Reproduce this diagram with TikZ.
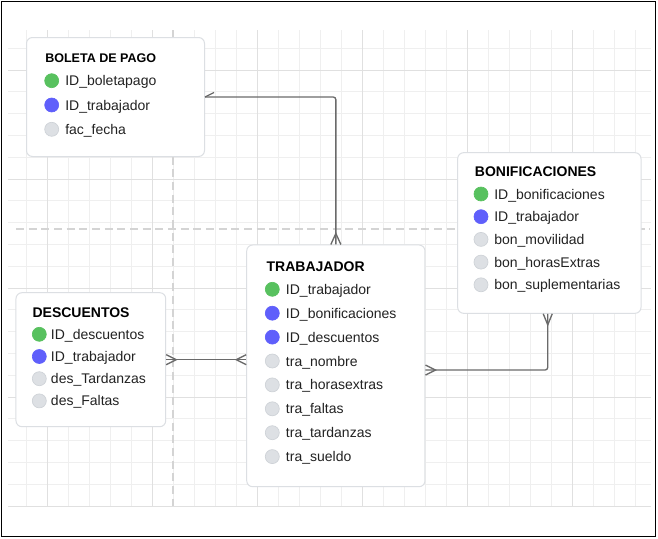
\documentclass[tikz,border=0pt]{standalone}
\usepackage{fontspec}
\setmainfont{Liberation Sans}
\usetikzlibrary{calc}
\definecolor{gminor}{HTML}{EFEFEF}
\definecolor{gmajor}{HTML}{E0E0E0}
\definecolor{dashc}{HTML}{D4D4D4}
\definecolor{boxb}{HTML}{DCDFE3}
\definecolor{conc}{HTML}{6A6A6A}
\definecolor{pkgreen}{HTML}{58C15F}
\definecolor{fkblue}{HTML}{5F5FFB}
\definecolor{attgray}{HTML}{DDE0E4}
\definecolor{attborder}{HTML}{CED2D7}
\definecolor{txt}{HTML}{222222}
\begin{document}
\begin{tikzpicture}[x=0.75pt,y=-0.75pt,
  minorl/.style={draw=gminor, line width=0.75pt},
  majorl/.style={draw=gmajor, line width=0.75pt},
  guide/.style={draw=dashc, line width=1.5pt, dash pattern=on 6pt off 3.5pt},
  entity/.style={draw=boxb, line width=0.75pt, fill=white, rounded corners=4.5pt, inner sep=0pt},
  conn/.style={draw=conc, line width=1pt},
  fld/.style={anchor=base west, inner sep=0pt, text=txt, font=\fontsize{10.5pt}{12pt}\selectfont},
  ttl/.style={anchor=base west, inner sep=0pt, text=black, font=\fontsize{10.5pt}{12pt}\selectfont\bfseries},
  dot/.style={circle, minimum size=10.5pt, inner sep=0pt, line width=0.5pt},
  pkdot/.style={dot, fill=pkgreen, draw=pkgreen},
  fkdot/.style={dot, fill=fkblue, draw=fkblue},
  attdot/.style={dot, fill=attgray, draw=attborder}]
\useasboundingbox (0,0) rectangle (658,539);
\fill[white] (0,0) rectangle (658,539);
% grid
\foreach \k in {0,...,29} \draw[minorl] (26.3+21*\k,30) -- (26.3+21*\k,506);
\foreach \k in {0,...,21} \draw[minorl] (8,48.3+21.8*\k) -- (651,48.3+21.8*\k);
\foreach \k in {1,6,...,26} \draw[majorl] (26.3+21*\k,30) -- (26.3+21*\k,506);
\foreach \k in {1,6,...,21} \draw[majorl] (8,48.3+21.8*\k) -- (651,48.3+21.8*\k);
% guides
\draw[guide] (172.7,30) -- (172.7,506);
\draw[guide] (16,228.7) -- (650,228.7);
% outer frame
\draw[black, line width=1.1pt] (1.5,1.5) rectangle (655.5,536.5);
% entities
\node[entity, minimum width=133.5pt, minimum height=89.25pt] (bol) at (115.5,97) {};
\node[entity, minimum width=133.7pt, minimum height=181.3pt] (trab) at (335.85,365.85) {};
\node[entity, minimum width=137.5pt, minimum height=120.5pt] (bon) at (549.35,233) {};
\node[entity, minimum width=112.3pt, minimum height=100.5pt] (desc) at (90.85,359.7) {};
% BOLETA DE PAGO
\node[ttl, font=\fontsize{9.4pt}{11pt}\selectfont\bfseries] (bolT) at (45,62.7) {BOLETA DE PAGO};
\foreach [count=\i from 0] \s/\t in {pkdot/ID\_boletapago, fkdot/ID\_trabajador, attdot/fac\_fecha} {
  \node[\s] (bolD\i) at (51.7,80.7+24.3*\i) {};
  \node[fld] (bolF\i) at (65,85.7+24.3*\i) {\t};
}
% TRABAJADOR
\node[ttl] (trabT) at (266.4,271) {TRABAJADOR};
\foreach [count=\i from 0] \s/\t in {pkdot/ID\_trabajador, fkdot/ID\_bonificaciones, fkdot/ID\_descuentos, attdot/tra\_nombre, attdot/tra\_horasextras, attdot/tra\_faltas, attdot/tra\_tardanzas, attdot/tra\_sueldo} {
  \node[\s] (trabD\i) at (272.3,289.3+23.9*\i) {};
  \node[fld] (trabF\i) at (285.7,294.3+23.9*\i) {\t};
}
% BONIFICACIONES
\node[ttl] (bonT) at (474.7,176.7) {BONIFICACIONES};
\foreach [count=\i from 0] \s/\t in {pkdot/ID\_bonificaciones, fkdot/ID\_trabajador, attdot/bon\_movilidad, attdot/bon\_horasExtras, attdot/bon\_suplementarias} {
  \node[\s] (bonD\i) at (481,194+22.7*\i) {};
  \node[fld] (bonF\i) at (494,199+22.7*\i) {\t};
}
% DESCUENTOS
\node[ttl] (descT) at (32.3,317) {DESCUENTOS};
\foreach [count=\i from 0] \s/\t in {pkdot/ID\_descuentos, fkdot/ID\_trabajador, attdot/des\_Tardanzas, attdot/des\_Faltas} {
  \node[\s] (descD\i) at (39.3,334.3+22.2*\i) {};
  \node[fld] (descF\i) at (50.7,339.3+22.2*\i) {\t};
}
% connector BOLETA -- TRABAJADOR
\draw[conn, rounded corners=2pt] (bol.east) -| (trab.north);
\draw[conn] (bol.east) -- ++(9,-4.5);
\draw[conn] ($(trab.north)+(-5,0)$) -- ($(trab.north)+(0,-11)$) -- ($(trab.north)+(5,0)$);
% connector DESCUENTOS -- TRABAJADOR
\coordinate (dB) at (desc.east -| trab.west);
\draw[conn] (desc.east) -- (dB);
\draw[conn] ($(desc.east)+(0,-5)$) -- ($(desc.east)+(10,0)$) -- ($(desc.east)+(0,5)$);
\draw[conn] ($(dB)+(0,-5)$) -- ($(dB)+(-10,0)$) -- ($(dB)+(0,5)$);
% connector TRABAJADOR -- BONIFICACIONES
\coordinate (tE) at ($(trab.east)+(0,4.2)$);
\coordinate (bS) at ($(bon.south)+(-1.6,0)$);
\draw[conn, rounded corners=2pt] (tE) -| (bS);
\draw[conn] ($(tE)+(0,-5)$) -- ($(tE)+(10,0)$) -- ($(tE)+(0,5)$);
\draw[conn] ($(bS)+(-4.5,0)$) -- ($(bS)+(0,11)$) -- ($(bS)+(4.5,0)$);
\end{tikzpicture}
\end{document}
